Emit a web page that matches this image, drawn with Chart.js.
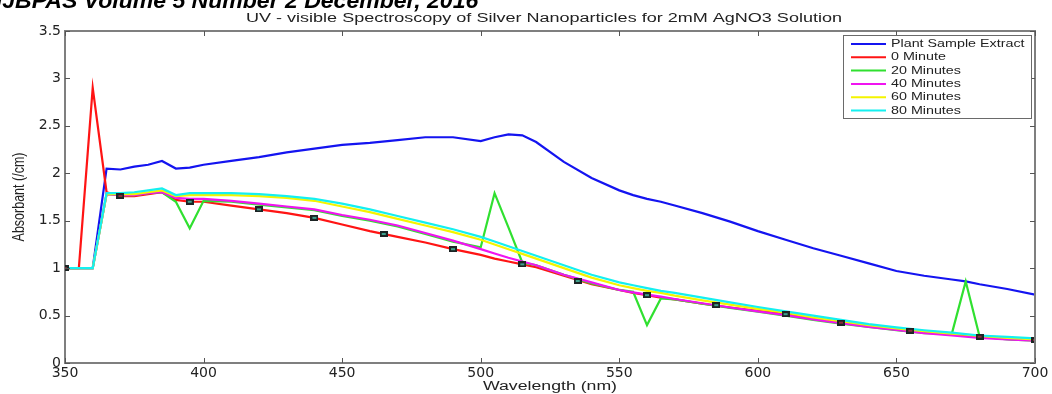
<!DOCTYPE html>
<html>
<head>
<meta charset="utf-8">
<title>UV - visible Spectroscopy of Silver Nanoparticles</title>
<script src="https://cdn.jsdelivr.net/npm/chart.js@4.4.0/dist/chart.umd.min.js"></script>
<style>
  html, body { margin: 0; padding: 0; background: #fff; }
  #wrap { width: 1052px; height: 394px; }
</style>
</head>
<body>
<div id="wrap"><canvas id="uv-chart" width="1052" height="394"></canvas></div>
<script>
// values
const wavelengths = [350, 355, 360, 365, 370, 375, 380, 385, 390, 395, 400,
  410, 420, 430, 440, 450, 460, 470, 480, 490, 500, 505, 510, 515, 520,
  530, 540, 550, 555, 560, 565, 570, 580, 590, 600, 610, 620, 630, 640,
  650, 660, 670, 675, 680, 690, 700];

const plantExtract = [1.0, 1.0, 1.0, 2.05, 2.04, 2.07, 2.09, 2.13, 2.05, 2.06, 2.09,
  2.13, 2.17, 2.22, 2.26, 2.30, 2.32, 2.35, 2.38, 2.38, 2.34, 2.38, 2.41, 2.40, 2.33,
  2.12, 1.95, 1.82, 1.77, 1.73, 1.70, 1.66, 1.58, 1.49, 1.39, 1.30, 1.21, 1.13, 1.05,
  0.97, 0.92, 0.88, 0.86, 0.83, 0.78, 0.72];

const minute0 = [1.0, 1.0, 2.90, 1.80, 1.76, 1.76, 1.78, 1.80, 1.72, 1.70, 1.70,
  1.66, 1.62, 1.58, 1.53, 1.46, 1.39, 1.33, 1.27, 1.20, 1.14, 1.10, 1.07, 1.04, 1.01,
  0.92, 0.83, 0.77, 0.74, 0.715, 0.69, 0.67, 0.625, 0.585, 0.55, 0.515, 0.47, 0.425, 0.39,
  0.355, 0.325, 0.30, 0.287, 0.275, 0.255, 0.24];

const minute20 = [1.0, 1.0, 1.0, 1.78, 1.77, 1.77, 1.79, 1.80, 1.70, 1.42, 1.71,
  1.70, 1.67, 1.64, 1.61, 1.55, 1.50, 1.44, 1.36, 1.28, 1.22, 1.79, 1.43, 1.06, 1.03,
  0.93, 0.84, 0.77, 0.75, 0.40, 0.68, 0.67, 0.625, 0.58, 0.54, 0.50, 0.455, 0.415, 0.38,
  0.345, 0.315, 0.31, 0.86, 0.28, 0.25, 0.235];

const minute40 = [1.0, 1.0, 1.0, 1.78, 1.77, 1.77, 1.79, 1.80, 1.74, 1.73, 1.73,
  1.71, 1.68, 1.65, 1.62, 1.56, 1.51, 1.45, 1.37, 1.29, 1.20, 1.155, 1.11, 1.07, 1.03,
  0.93, 0.85, 0.77, 0.745, 0.72, 0.70, 0.675, 0.63, 0.585, 0.545, 0.505, 0.46, 0.42, 0.38,
  0.35, 0.315, 0.29, 0.277, 0.265, 0.25, 0.235];

const minute60 = [1.0, 1.0, 1.0, 1.78, 1.78, 1.78, 1.80, 1.82, 1.76, 1.77, 1.77,
  1.77, 1.76, 1.74, 1.71, 1.65, 1.59, 1.52, 1.45, 1.38, 1.30, 1.25, 1.20, 1.15, 1.10,
  1.00, 0.90, 0.82, 0.79, 0.76, 0.74, 0.71, 0.66, 0.615, 0.57, 0.53, 0.48, 0.44, 0.40,
  0.365, 0.335, 0.31, 0.30, 0.285, 0.265, 0.25];

const minute80 = [1.0, 1.0, 1.0, 1.79, 1.79, 1.80, 1.82, 1.84, 1.77, 1.79, 1.79,
  1.79, 1.78, 1.76, 1.73, 1.68, 1.62, 1.55, 1.48, 1.41, 1.33, 1.28, 1.23, 1.18, 1.13,
  1.03, 0.93, 0.85, 0.82, 0.79, 0.76, 0.74, 0.69, 0.64, 0.59, 0.545, 0.50, 0.455, 0.41,
  0.375, 0.345, 0.32, 0.305, 0.29, 0.275, 0.26];

// small square markers sitting on the curves
const markerNm = [350, 370, 395, 420, 440, 465, 490, 515, 535, 560, 585, 610, 630, 655, 680, 700];
const markerAbs = [1.0, 1.76, 1.70, 1.62, 1.53, 1.36, 1.20, 1.04, 0.865, 0.715, 0.61, 0.515, 0.425, 0.34, 0.277, 0.242];

const seriesNames = ["Plant Sample Extract", "0 Minute", "20 Minutes", "40 Minutes", "60 Minutes", "80 Minutes"];
const xTicks = [350, 400, 450, 500, 550, 600, 650, 700];
const yTicks = [0, 0.5, 1, 1.5, 2, 2.5, 3, 3.5];

const chartTitle = "UV - visible Spectroscopy of Silver Nanoparticles for 2mM AgNO3 Solution";
const xTitle = "Wavelength (nm)";
const yTitle = "Absorbant (/cm)";
const headerText = "IJBPAS Volume 5 Number 2 December, 2016";

const lineColors = ["#1414f0", "#ff1414", "#30e030", "#f014f0", "#f4f400", "#14f0f0"];
const axisGrey = "#7f7f7f";

function toPoints(ys) {
  return ys.map((y, i) => ({ x: wavelengths[i], y: y }));
}

function markerCanvas(fill) {
  const c = document.createElement("canvas");
  c.width = 8;
  c.height = 6;
  const g = c.getContext("2d");
  g.fillStyle = "#1c2424";
  g.fillRect(0, 0, 8, 6);
  g.fillStyle = fill;
  g.fillRect(2, 2, 4, 2);
  return c;
}
const tealMarker = markerCanvas("#3fa08c");
const darkMarker = markerCanvas("#8a2a3a");

// text stretched to the width it takes in the picture
function fitText(ctx, text, x, y, font, targetWidth, align) {
  ctx.save();
  ctx.font = font;
  const w = ctx.measureText(text).width;
  ctx.translate(x, y);
  ctx.scale(targetWidth / w, 1);
  ctx.textAlign = align || "center";
  ctx.fillText(text, 0, 0);
  ctx.restore();
}

const matlabFrame = {
  id: "matlabFrame",
  afterDraw(chart) {
    const { ctx, chartArea: a, scales } = chart;
    ctx.save();

    // top / right edges of the box plus inward ticks
    ctx.strokeStyle = axisGrey;
    ctx.lineWidth = 2;
    ctx.beginPath();
    ctx.moveTo(a.left - 1, a.top);
    ctx.lineTo(a.right, a.top);
    ctx.lineTo(a.right, a.bottom + 1);
    ctx.stroke();

    ctx.lineWidth = 1;
    ctx.strokeStyle = "#555";
    ctx.beginPath();
    xTicks.forEach((v) => {
      const px = Math.round(scales.x.getPixelForValue(v)) + 0.5;
      ctx.moveTo(px, a.bottom);
      ctx.lineTo(px, a.bottom - 5);
      ctx.moveTo(px, a.top);
      ctx.lineTo(px, a.top + 5);
    });
    yTicks.forEach((v) => {
      const py = Math.round(scales.y.getPixelForValue(v)) + 0.5;
      ctx.moveTo(a.left, py);
      ctx.lineTo(a.left + 5, py);
      ctx.moveTo(a.right, py);
      ctx.lineTo(a.right - 5, py);
    });
    ctx.stroke();

    // legend box, top right inside the axes
    const lx = 843, ly = 35, lw = 188, lh = 83;
    ctx.fillStyle = "#fff";
    ctx.fillRect(lx, ly, lw, lh);
    ctx.strokeStyle = "#6a6a6a";
    ctx.lineWidth = 1;
    ctx.strokeRect(lx + 0.5, ly + 0.5, lw, lh);
    ctx.textBaseline = "middle";
    ctx.fillStyle = "#222";
    seriesNames.forEach((name, i) => {
      const ry = ly + 9 + i * 13.3;
      ctx.strokeStyle = lineColors[i];
      ctx.lineWidth = 2;
      ctx.beginPath();
      ctx.moveTo(851, ry);
      ctx.lineTo(886, ry);
      ctx.stroke();
      ctx.font = "11px 'Liberation Sans', Arial, sans-serif";
      const w = ctx.measureText(name).width;
      fitText(ctx, name, 891, ry, ctx.font, w * 1.3, "left");
    });

    // titles
    ctx.fillStyle = "#222";
    ctx.textBaseline = "middle";
    fitText(ctx, chartTitle, 544, 19, "12px 'Liberation Sans', Arial, sans-serif", 596);
    fitText(ctx, xTitle, 550, 387, "12px 'Liberation Sans', Arial, sans-serif", 134);

    ctx.save();
    ctx.translate(20, 197);
    ctx.rotate(-Math.PI / 2);
    ctx.scale(1, 1.3);
    ctx.font = "12.5px 'Liberation Sans', Arial, sans-serif";
    ctx.textAlign = "center";
    ctx.fillText(yTitle, 0, 0);
    ctx.restore();

    // journal header, cut off at the top edge
    ctx.fillStyle = "#000";
    ctx.textBaseline = "alphabetic";
    ctx.font = "bold italic 22px 'Liberation Sans', Arial, sans-serif";
    const tail = headerText.slice(4);
    const sx = 433 / ctx.measureText(tail).width;
    const headW = ctx.measureText(headerText.slice(0, 4)).width * sx;
    fitText(ctx, headerText, 47 - headW, 8, ctx.font,
      ctx.measureText(headerText).width * sx, "left");

    ctx.restore();
  },
};

const datasets = seriesNames.map((name, i) => ({
  label: name,
  data: toPoints([plantExtract, minute0, minute20, minute40, minute60, minute80][i]),
  borderColor: lineColors[i],
  backgroundColor: lineColors[i],
  borderWidth: 2.2,
  pointRadius: 0,
  tension: 0,
  order: 6 - i,
}));

datasets.push({
  label: "markers",
  data: markerNm.map((nm, i) => ({ x: nm, y: markerAbs[i] })),
  showLine: false,
  pointRadius: 4,
  pointStyle: (ctx) => {
    const nm = markerNm[ctx.dataIndex];
    return nm >= 395 && nm <= 610 ? tealMarker : darkMarker;
  },
  order: 0,
});

const tickFont = { family: "'DejaVu Sans', sans-serif", size: 14 };

new Chart(document.getElementById("uv-chart"), {
  type: "line",
  data: { datasets: datasets },
  options: {
    responsive: false,
    devicePixelRatio: 1,
    animation: false,
    layout: { padding: { top: 31, right: 17, left: 0, bottom: 0 } },
    plugins: {
      legend: { display: false },
      title: { display: false },
      tooltip: { enabled: false },
    },
    scales: {
      x: {
        type: "linear",
        min: 350,
        max: 700,
        afterBuildTicks: (s) => { s.ticks = xTicks.map((v) => ({ value: v })); },
        afterFit: (s) => { s.height = 31; },
        ticks: { color: "#222", font: tickFont, padding: 2, maxRotation: 0, autoSkip: false },
        grid: { drawOnChartArea: false, drawTicks: false },
        border: { color: axisGrey, width: 2 },
      },
      y: {
        type: "linear",
        min: 0,
        max: 3.5,
        afterBuildTicks: (s) => { s.ticks = yTicks.map((v) => ({ value: v })); },
        afterFit: (s) => { s.width = 65; },
        ticks: {
          color: "#222",
          font: tickFont,
          padding: 4,
          callback: (v) => String(v),
        },
        grid: { drawOnChartArea: false, drawTicks: false },
        border: { color: axisGrey, width: 2 },
      },
    },
  },
  plugins: [matlabFrame],
});
</script>
</body>
</html>
